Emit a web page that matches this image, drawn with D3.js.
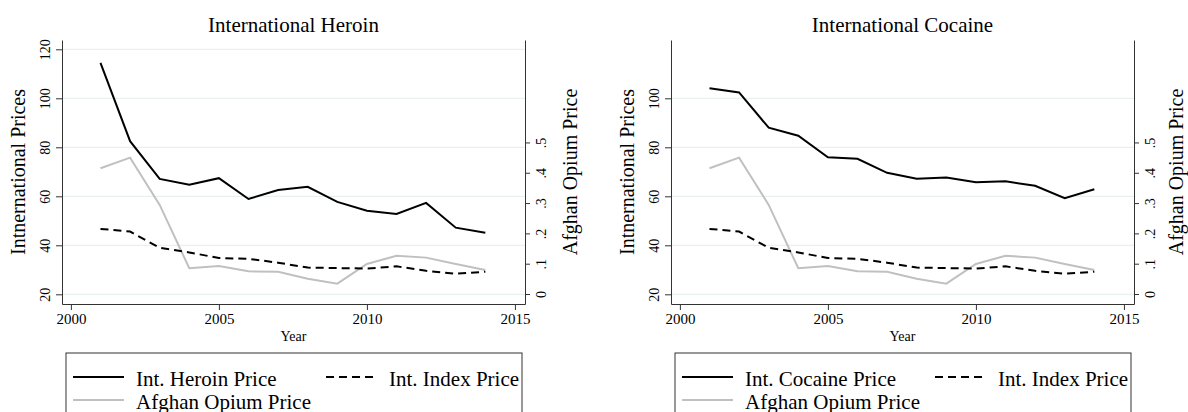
<!DOCTYPE html>
<html>
<head>
<meta charset="utf-8">
<script src="https://cdn.jsdelivr.net/npm/d3@7"></script>
<style>
  body { margin: 0; background: #fff; }
  svg { display: block; font-family: "Liberation Serif", "Times New Roman", serif; }
  .axis path, .axis line { stroke: #333; }
</style>
</head>
<body>
<div id="chart"></div>
<script>
// data
var years = [2001, 2002, 2003, 2004, 2005, 2006, 2007, 2008, 2009, 2010, 2011, 2012, 2013, 2014];
var heroinPrice = [114.5, 82.5, 67.1, 64.7, 67.4, 58.9, 62.6, 63.9, 57.7, 54.1, 52.8, 57.3, 47.2, 45.1];
var cocainePrice = [104.1, 102.4, 88.0, 84.7, 75.9, 75.3, 69.6, 67.2, 67.7, 65.7, 66.1, 64.3, 59.2, 62.9];
var indexPrice = [46.7, 45.6, 39.0, 37.1, 34.8, 34.5, 32.9, 30.9, 30.7, 30.5, 31.4, 29.6, 28.4, 29.2];
var opiumPrice = [0.415, 0.450, 0.294, 0.085, 0.092, 0.075, 0.073, 0.050, 0.034, 0.099, 0.126, 0.120, 0.099, 0.079];

var yearTicks = [2000, 2005, 2010, 2015];
var heroinTicks = [20, 40, 60, 80, 100, 120];
var cocaineTicks = [20, 40, 60, 80, 100];
var opiumTicks = [0, 0.1, 0.2, 0.3, 0.4, 0.5];

var svgWidth = 1188, svgHeight = 412;

var svg = d3.select("#chart")
    .append("svg")
    .attr("width", svgWidth)
    .attr("height", svgHeight);

svg.append("rect")
    .attr("width", svgWidth)
    .attr("height", svgHeight)
    .attr("fill", "#fff");

// plot area inside each panel
var plotW = 463, plotTop = 40, plotBottom = 304;

drawPanel(62, "International Heroin", heroinPrice, "Int. Heroin Price", heroinTicks, 52);
drawPanel(671, "International Cocaine", cocainePrice, "Int. Cocaine Price", cocaineTicks, 49);

function drawPanel(left, title, mainSeries, mainLabel, leftTicks, rightLabelGap) {

    var g = svg.append("g")
        .attr("transform", `translate(${left}, 0)`);

    var xScale = d3.scaleLinear()
        .domain([1999.7, 2015.34])
        .range([0, plotW]);

    var yScale = d3.scaleLinear()
        .domain([16.04, 123.8])
        .range([plotBottom, plotTop]);

    var y2Scale = d3.scaleLinear()
        .domain([-0.033, 0.838])
        .range([plotBottom, plotTop]);

    // gridlines
    g.selectAll(".grid")
        .data(leftTicks)
        .enter()
        .append("line")
        .attr("x1", 0)
        .attr("x2", plotW)
        .attr("y1", d => yScale(d))
        .attr("y2", d => yScale(d))
        .attr("stroke", "#e3edef")
        .attr("stroke-width", 1);

    // axes
    var leftAxis = g.append("g")
        .attr("class", "axis")
        .call(d3.axisLeft(yScale).tickValues(leftTicks).tickSize(6).tickSizeOuter(0));
    leftAxis.selectAll("text")
        .attr("x", 0)
        .attr("dy", 0)
        .attr("text-anchor", "middle")
        .attr("transform", "translate(-12,0) rotate(-90)")
        .attr("font-size", "14px")
        .attr("font-family", "Liberation Serif")
        .attr("fill", "#000");

    var rightAxis = g.append("g")
        .attr("class", "axis")
        .attr("transform", `translate(${plotW}, 0)`)
        .call(d3.axisRight(y2Scale).tickValues(opiumTicks).tickSize(5).tickSizeOuter(0)
            .tickFormat(d => d === 0 ? "0" : d3.format(".1f")(d).replace("0.", ".")));
    rightAxis.selectAll("text")
        .attr("x", 0)
        .attr("dy", 0)
        .attr("text-anchor", "middle")
        .attr("transform", "translate(21,0) rotate(-90)")
        .attr("font-size", "14px")
        .attr("font-family", "Liberation Serif")
        .attr("fill", "#000");

    var xAxis = g.append("g")
        .attr("class", "axis")
        .attr("transform", `translate(0, ${plotBottom})`)
        .call(d3.axisBottom(xScale).tickValues(yearTicks).tickFormat(d3.format("d")).tickSize(6).tickSizeOuter(0));
    xAxis.selectAll("text")
        .attr("y", 20)
        .attr("dy", 0)
        .attr("font-size", "15px")
        .attr("font-family", "Liberation Serif")
        .attr("fill", "#000");

    // lines
    var mainLine = d3.line()
        .x((d, i) => xScale(years[i]))
        .y(d => yScale(d));
    var opiumLine = d3.line()
        .x((d, i) => xScale(years[i]))
        .y(d => y2Scale(d));

    g.append("path")
        .datum(opiumPrice)
        .attr("d", opiumLine)
        .attr("fill", "none")
        .attr("stroke", "#c0c0c0")
        .attr("stroke-width", 2);

    g.append("path")
        .datum(indexPrice)
        .attr("d", mainLine)
        .attr("fill", "none")
        .attr("stroke", "#000")
        .attr("stroke-width", 2)
        .attr("stroke-dasharray", "8,5");

    g.append("path")
        .datum(mainSeries)
        .attr("d", mainLine)
        .attr("fill", "none")
        .attr("stroke", "#000")
        .attr("stroke-width", 2);

    // titles and labels
    g.append("text")
        .attr("x", plotW / 2)
        .attr("y", 32)
        .attr("text-anchor", "middle")
        .attr("font-size", "21px")
        .text(title);

    g.append("text")
        .attr("transform", "translate(-37, 172) rotate(-90)")
        .attr("text-anchor", "middle")
        .attr("font-size", "20px")
        .text("Intnernational Prices");

    g.append("text")
        .attr("transform", `translate(${plotW + rightLabelGap}, 172) rotate(-90)`)
        .attr("text-anchor", "middle")
        .attr("font-size", "20px")
        .text("Afghan Opium Price");

    g.append("text")
        .attr("x", plotW / 2)
        .attr("y", 341)
        .attr("text-anchor", "middle")
        .attr("font-size", "14px")
        .text("Year");

    // legend
    var lg = g.append("g")
        .attr("transform", "translate(4, 353)");

    lg.append("rect")
        .attr("x", 0)
        .attr("y", 0)
        .attr("width", 456)
        .attr("height", 80)
        .attr("fill", "none")
        .attr("stroke", "#333")
        .attr("stroke-width", 1);

    var legendItems = [
        {label: mainLabel, color: "#000", dash: null, x: 7, y: 24},
        {label: "Int. Index Price", color: "#000", dash: "8,5", x: 260, y: 24},
        {label: "Afghan Opium Price", color: "#c0c0c0", dash: null, x: 7, y: 47}
    ];

    legendItems.forEach(function(item) {
        lg.append("line")
            .attr("x1", item.x)
            .attr("x2", item.x + 51)
            .attr("y1", item.y)
            .attr("y2", item.y)
            .attr("stroke", item.color)
            .attr("stroke-width", 2)
            .attr("stroke-dasharray", item.dash);
        lg.append("text")
            .attr("x", item.x + 63)
            .attr("y", item.y + 8.5)
            .attr("font-size", "21px")
            .text(item.label);
    });
}
</script>
</body>
</html>
